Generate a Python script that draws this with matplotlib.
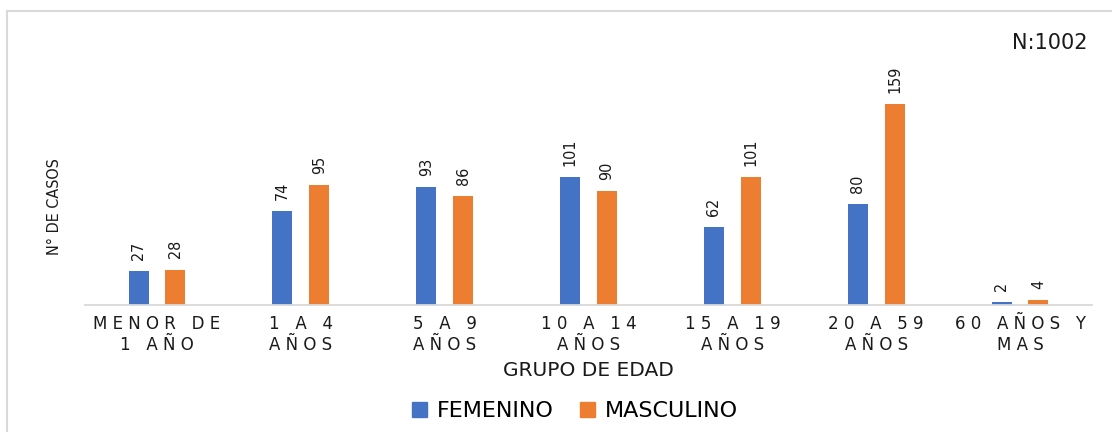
import matplotlib
matplotlib.use("Agg")
import matplotlib.pyplot as plt
from matplotlib.lines import Line2D
from matplotlib.patches import Patch
import numpy as np

categories = ["MENOR DE\n1 AÑO", "1 A 4\nAÑOS", "5 A 9\nAÑOS", "10 A 14\nAÑOS",
              "15 A 19\nAÑOS", "20 A 59\nAÑOS", "60 AÑOS Y\nMAS"]
femenino = [27, 74, 93, 101, 62, 80, 2]
masculino = [28, 95, 86, 90, 101, 159, 4]
series_names = ["FEMENINO", "MASCULINO"]
colors = ["#4472C4", "#ED7D31"]

main_font = "DejaVu Sans"
txt_color = "#1a1a1a"

def spaced(s):
    return "\n".join(" ".join(list(line)) for line in s.split("\n"))

W, H = 1112, 432
fig = plt.figure(figsize=(W / 100, H / 100), dpi=100)
ax_left, ax_right = 85 / W, 1092 / W
ax_bottom = (H - 305) / H
ymax = 175
px_per_unit = 201 / 159
ax_top = (H - (305 - ymax * px_per_unit)) / H
ax = fig.add_axes([ax_left, ax_bottom, ax_right - ax_left, ax_top - ax_bottom])

x = np.arange(len(categories))
bw = 0.139
off = 0.128
b1 = ax.bar(x - off, femenino, bw, color=colors[0], label=series_names[0])
b2 = ax.bar(x + off, masculino, bw, color=colors[1], label=series_names[1])

for bars, vals in ((b1, femenino), (b2, masculino)):
    for rect, v in zip(bars, vals):
        ax.annotate(str(v), (rect.get_x() + rect.get_width() / 2, rect.get_height()),
                    xytext=(0, 8), textcoords="offset points", rotation=90,
                    ha="center", va="bottom", fontsize=11.5, family=main_font,
                    fontstretch="condensed", color=txt_color)

ax.set_xlim(-0.5, len(categories) - 0.5)
ax.set_ylim(0, ymax)
ax.set_xticks(x)
ax.set_xticklabels([spaced(c) for c in categories], fontsize=12, family=main_font,
                   color=txt_color, linespacing=1.2)
ax.tick_params(axis="x", length=0, pad=7)
ax.set_yticks([])
for s in ["top", "right", "left"]:
    ax.spines[s].set_visible(False)
ax.spines["bottom"].set_color("#d9d9d9")
ax.spines["bottom"].set_linewidth(1.3)

fig.text(588 / W, 1 - 371 / H, "GRUPO DE EDAD", ha="center", va="center",
         fontsize=14.5, family=main_font, color=txt_color)
fig.text(54 / W, 1 - 207 / H, "N° DE CASOS", ha="center", va="center", rotation=90,
         fontsize=11.5, family=main_font, fontstretch="condensed", color=txt_color)
fig.text(1088 / W, 1 - 43 / H, "N:1002", ha="right", va="center",
         fontsize=15, family=main_font, color=txt_color)

handles = [Patch(color=colors[0]), Patch(color=colors[1])]
fig.legend(handles, series_names, loc="center", bbox_to_anchor=(575 / W, 1 - 411 / H),
           ncol=2, frameon=False, prop={"family": main_font, "size": 16},
           handlelength=0.65, handleheight=0.65, handletextpad=0.45, columnspacing=1.2)

fig.add_artist(Line2D([7 / W, 7 / W], [0, 1 - 11 / H], color="#d9d9d9", lw=1.5,
                      transform=fig.transFigure))
fig.add_artist(Line2D([7 / W, 1], [1 - 11 / H, 1 - 11 / H], color="#d9d9d9", lw=1.5,
                      transform=fig.transFigure))

fig.savefig("out.png", dpi=100)
